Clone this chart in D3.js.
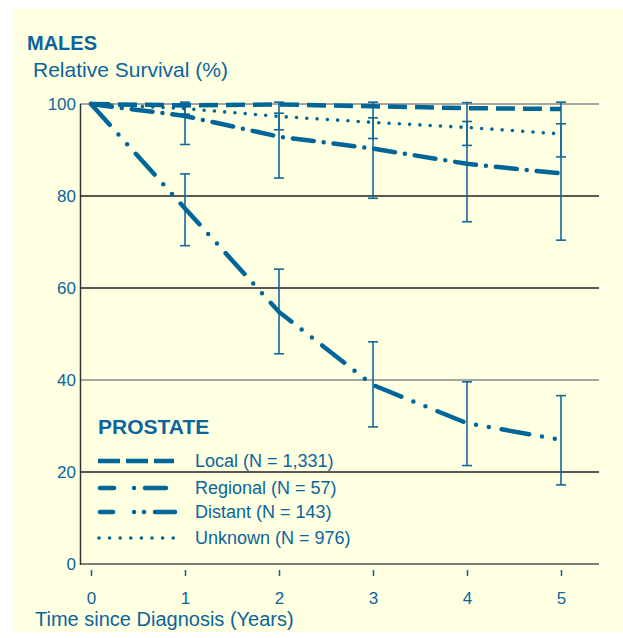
<!DOCTYPE html>
<html>
<head>
<meta charset="utf-8">
<script src="https://cdn.jsdelivr.net/npm/d3@7"></script>
<style>
  body { margin: 0; background: #fff; }
  text { font-family: "Liberation Sans", Arial, sans-serif; fill: #0b659c; }
</style>
</head>
<body>
<script>
// data
const years = [0, 1, 2, 3, 4, 5];
const local = [100, 99.7, 99.9, 99.5, 99.1, 98.9];
const regional = [100, 97.4, 92.9, 90.3, 87.0, 84.9];
const distant = [100, 77.3, 54.8, 38.9, 30.6, 27.0];
const unknown = [100, 99.0, 97.3, 96.0, 94.9, 93.5];

const ciYears = [1, 2, 3, 4, 5];
const regionalLo = [91.2, 83.9, 79.5, 74.4, 70.4];
const regionalHi = [100.4, 100.4, 100.4, 100.3, 100.4];
const unknownLo = [97.8, 94.4, 92.5, 91.0, 88.5];
const unknownHi = [100.2, 98.0, 97.0, 96.2, 95.7];
const distantLo = [69.2, 45.7, 29.8, 21.4, 17.2];
const distantHi = [84.8, 64.1, 48.3, 39.6, 36.6];

const yTicks = [0, 20, 40, 60, 80, 100];
const legendLabels = ["Local (N = 1,331)", "Regional (N = 57)", "Distant (N = 143)", "Unknown (N = 976)"];

const W = 623, H = 638;
const blue = "#006699";

const svg = d3.select("body").append("svg").attr("width", W).attr("height", H);

svg.append("rect").attr("x", 13).attr("y", 9).attr("width", W - 13).attr("height", 623)
  .attr("fill", "#ffffe1");

const x = d3.scaleLinear().domain([0, 5]).range([91, 561]);
const y = d3.scaleLinear().domain([0, 100]).range([564, 104]);

// titles
svg.append("text").attr("x", 27).attr("y", 50).attr("font-size", 20).attr("font-weight", "bold").text("MALES");
svg.append("text").attr("x", 33).attr("y", 77).attr("font-size", 21).text("Relative Survival (%)");

// grid lines (with white highlight at the right end)
const grid = svg.append("g");
yTicks.forEach(t => {
  grid.append("line").attr("x1", 598).attr("x2", 612).attr("y1", y(t) + 0.5).attr("y2", y(t) + 0.5)
    .attr("stroke", "#fff").attr("stroke-width", 2);
  grid.append("line").attr("x1", 80).attr("x2", 599).attr("y1", y(t)).attr("y2", y(t))
    .attr("stroke", (t === 100 || t === 40) ? "#888" : (t === 0 ? "#555" : "#222"))
    .attr("stroke-width", 1.5);
});
svg.append("line").attr("x1", 80.5).attr("x2", 80.5).attr("y1", y(100)).attr("y2", y(0) + 1)
  .attr("stroke", "#333").attr("stroke-width", 1.5);

// y tick labels
svg.append("g").selectAll("text").data(yTicks).enter().append("text")
  .attr("x", 76).attr("y", d => y(d)).attr("dy", "0.35em")
  .attr("text-anchor", "end").attr("font-size", 17).text(d => d);

// x ticks below the axis
const xa = svg.append("g").attr("transform", "translate(0,570)")
  .call(d3.axisBottom(x).tickValues(years).tickSize(6).tickPadding(16).tickFormat(d3.format("d")));
xa.select(".domain").remove();
xa.selectAll("line").attr("stroke", blue).attr("stroke-width", 1.5);
xa.selectAll("text").attr("font-size", 17).attr("fill", "#0b659c")
  .attr("font-family", "Liberation Sans, Arial, sans-serif");

svg.append("text").attr("x", 35).attr("y", 626).attr("font-size", 20).text("Time since Diagnosis (Years)");

// error bars
function errBars(lo, hi) {
  const g = svg.append("g").attr("stroke", "#11699d").attr("stroke-width", 1.6);
  ciYears.forEach((yr, i) => {
    g.append("line").attr("x1", x(yr)).attr("x2", x(yr)).attr("y1", y(lo[i])).attr("y2", y(hi[i]));
    g.append("line").attr("x1", x(yr) - 5).attr("x2", x(yr) + 5).attr("y1", y(lo[i])).attr("y2", y(lo[i]));
    g.append("line").attr("x1", x(yr) - 5).attr("x2", x(yr) + 5).attr("y1", y(hi[i])).attr("y2", y(hi[i]));
  });
}
errBars(regionalLo, regionalHi);
errBars(unknownLo, unknownHi);
errBars(distantLo, distantHi);

// survival lines
const series = [
  { vals: local, dash: "19,8", cap: "butt", w: 4.5 },
  { vals: regional, dash: "21,10,0,10", cap: "round", w: 4.5 },
  { vals: distant, dash: "28,13,0,13,0,13", cap: "round", w: 4.5 },
  { vals: unknown, dash: "0,10.3", cap: "round", w: 3.6 }
];
const line = d3.line().x((d, i) => x(years[i])).y(d => y(d));
series.forEach(s => {
  svg.append("path").datum(s.vals).attr("d", line)
    .attr("fill", "none").attr("stroke", blue).attr("stroke-width", s.w)
    .attr("stroke-dasharray", s.dash).attr("stroke-linecap", s.cap);
});

// legend
svg.append("text").attr("x", 98).attr("y", 434).attr("font-size", 21).attr("font-weight", "bold").text("PROSTATE");
const legY = [461, 488, 512, 538];
const legSample = [
  { x1: 98, x2: 174, dash: "22,6" },
  { x1: 100, x2: 166, dash: "14,20,0,11,30" },
  { x1: 100, x2: 175, dash: "13,21,0,10,0,11,30" },
  { x1: 99, x2: 174, dash: "0,10.6" }
];
series.forEach((s, i) => {
  svg.append("line").attr("x1", legSample[i].x1).attr("x2", legSample[i].x2).attr("y1", legY[i]).attr("y2", legY[i])
    .attr("stroke", blue).attr("stroke-width", s.w)
    .attr("stroke-dasharray", legSample[i].dash)
    .attr("stroke-linecap", s.cap);
  svg.append("text").attr("x", 195).attr("y", legY[i]).attr("dy", "0.35em").attr("font-size", 18).text(legendLabels[i]);
});
</script>
</body>
</html>
